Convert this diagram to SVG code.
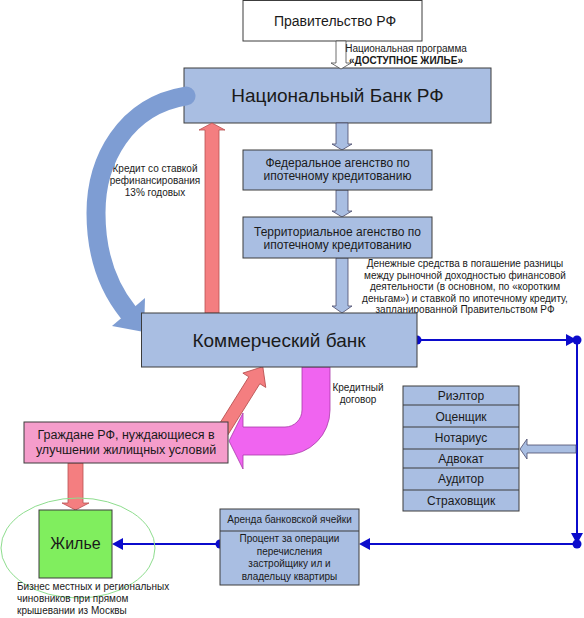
<svg xmlns="http://www.w3.org/2000/svg" width="584" height="618" viewBox="0 0 584 618">
<defs>
<style>
text{font-family:"Liberation Sans",Arial,sans-serif;fill:#1a1a1a}
.c{text-anchor:middle}
.box{fill:#A9BEE2;stroke:#3c3c3c;stroke-width:1}
.sm{font-size:10px}
.ag{font-size:12px}
.li{font-size:12px}
.big{font-size:19px}
.blu{stroke:#0B0BCC;stroke-width:2;fill:none}
.dot{fill:#0B0BCC}
.harr{fill:#0B0BCC}
.barr{fill:#A9BEE2;stroke:#4a4a6a;stroke-width:0.8}
.red{fill:#F47E80;stroke:#B85050;stroke-width:0.8}
</style>
</defs>
<rect width="584" height="618" fill="#ffffff"/>

<g id="gov">
<rect x="243" y="0.5" width="179" height="40.5" fill="#ffffff" stroke="#3c3c3c"/>
<text x="335" y="26" class="c" font-size="14">Правительство РФ</text>
</g>

<g id="natbank">
<rect x="184" y="68" width="307" height="55" class="box"/>
<text x="337.5" y="102" class="c big">Национальный Банк РФ</text>
</g>

<g id="connectors">
<polygon points="336,41 346,41 346,63 351,63 341,69 331,63 336,63" fill="#ffffff" stroke="#4a4a4a" stroke-width="0.8"/>
<text x="406" y="52" class="c sm">Национальная программа</text>
<text x="406" y="64" class="c sm" font-weight="bold">«ДОСТУПНОЕ ЖИЛЬЕ»</text>

<polygon class="barr" points="336,123 348,123 348,144 352,144 342,150 332,144 336,144"/>
<polygon class="barr" points="336,190 348,190 348,211 352,211 342,217 332,211 336,211"/>
<polygon class="barr" points="336,258 348,258 348,306 352,306 342,313 332,306 336,306"/>
<text class="c sm" x="465" y="267">Денежные средства в погашение разницы</text>
<text class="c sm" x="465" y="278.5">между рыночной доходностью финансовой</text>
<text class="c sm" x="465" y="290">деятельности (в основном, по «коротким</text>
<text class="c sm" x="465" y="301.5">деньгам») и ставкой по ипотечному кредиту,</text>
<text class="c sm" x="465" y="313">запланированной Правительством РФ</text>

<polygon class="red" points="205,313 219,313 219,130 225,130 212,123 199,130 205,130"/>
<text class="c sm" x="155" y="172">Кредит со ставкой</text>
<text class="c sm" x="155" y="184">рефинансирования</text>
<text class="c sm" x="155" y="195.5">13% годовых</text>

<path d="M 186 96 C 125 106, 96 160, 96 213 C 96 255, 108 287, 128 312" fill="none" stroke="#7E9DD3" stroke-width="19" stroke-linecap="round"/>
<polygon points="112,326 144,332 145,298" fill="#7E9DD3"/>

<g transform="translate(222,432) rotate(-58)">
<polygon class="red" points="0,-6.5 61,-6.5 61,-13.5 77,0 61,13.5 61,6.5 0,6.5"/>
</g>

<path d="M 302 367 L 330 367 L 330 410 A 45 45 0 0 1 285 455 L 243 455 L 243 469 L 229 441 L 243 413 L 243 427 L 285 427 A 17 17 0 0 0 302 410 Z" fill="#F064F0" stroke="#A838A8" stroke-width="0.8"/>
<text class="c sm" x="358" y="391">Кредитный</text>
<text class="c sm" x="358" y="403">договор</text>

<polygon class="red" points="68,463 83,463 83,503 89,503 75.5,510 62,503 68,503"/>

<line class="blu" x1="417" y1="340" x2="570" y2="340"/>
<circle class="dot" cx="417" cy="340" r="4.5"/>
<polygon class="harr" points="566,334 577,340 566,346"/>
<circle class="dot" cx="577" cy="340" r="4.5"/>

<line class="blu" x1="577" y1="340" x2="577" y2="538"/>
<polygon class="harr" points="571,533 577,544 583,533"/>
<circle class="dot" cx="577" cy="544" r="4.5"/>

<line class="blu" x1="577" y1="544" x2="366" y2="544"/>
<polygon class="harr" points="370,538 359,544 370,550"/>

<line class="blu" x1="220" y1="544" x2="119" y2="544"/>
<circle class="dot" cx="220" cy="544" r="4.5"/>
<polygon class="harr" points="123,538 112,544 123,550"/>

<polygon class="barr" points="576,445 527,445 527,439 520,449 527,459 527,453 576,453"/>
</g>

<g id="fed">
<rect x="243" y="150" width="189" height="40" class="box"/>
<text x="337.5" y="167" class="c ag">Федеральное агенство по</text>
<text x="337.5" y="180" class="c ag">ипотечному кредитованию</text>
</g>

<g id="terr">
<rect x="243" y="217" width="189" height="41" class="box"/>
<text x="337.5" y="236" class="c ag">Территориальное агенство по</text>
<text x="337.5" y="249" class="c ag">ипотечному кредитованию</text>
</g>

<g id="commbank">
<rect x="141.5" y="313" width="275.5" height="54" class="box"/>
<text x="279" y="347" class="c big">Коммерческий банк</text>
</g>

<g id="citizens">
<rect x="24" y="422" width="204" height="41" fill="#F59DCB" stroke="#3c3c3c"/>
<text x="126" y="439" class="c" font-size="12.5">Граждане РФ, нуждающиеся в</text>
<text x="126" y="454" class="c" font-size="12.5">улучшении жилищных условий</text>
</g>

<g id="professions">
<rect x="403" y="386" width="116" height="125" class="box"/>
<line x1="403" y1="405" x2="519" y2="405" stroke="#3c3c3c"/>
<line x1="403" y1="427" x2="519" y2="427" stroke="#3c3c3c"/>
<line x1="403" y1="449" x2="519" y2="449" stroke="#3c3c3c"/>
<line x1="403" y1="468" x2="519" y2="468" stroke="#3c3c3c"/>
<line x1="403" y1="490" x2="519" y2="490" stroke="#3c3c3c"/>
<text x="461" y="400" class="c li">Риэлтор</text>
<text x="461" y="420.5" class="c li">Оценщик</text>
<text x="461" y="442" class="c li">Нотариус</text>
<text x="461" y="463" class="c li">Адвокат</text>
<text x="461" y="483" class="c li">Аудитор</text>
<text x="461" y="504.5" class="c li">Страховщик</text>
</g>

<g id="bankcell">
<rect x="220" y="509" width="139" height="76" class="box"/>
<line x1="220" y1="531" x2="359" y2="531" stroke="#3c3c3c"/>
<text x="289.5" y="523" class="c sm">Аренда банковской ячейки</text>
<text x="289.5" y="542" class="c sm">Процент за операции</text>
<text x="289.5" y="555" class="c sm">перечисления</text>
<text x="289.5" y="567" class="c sm">застройщику ил и</text>
<text x="289.5" y="580" class="c sm">владельцу квартиры</text>
</g>

<g id="housing">
<ellipse cx="78" cy="548" rx="77" ry="50" fill="none" stroke="#8EDD8E" stroke-width="1"/>
<rect x="39" y="510" width="73" height="68" fill="#80EE5E" stroke="#3c3c3c"/>
<text x="75.5" y="549" class="c" font-size="16">Жилье</text>
<text x="17" y="590" class="sm">Бизнес местных и региональных</text>
<text x="17" y="602" class="sm">чиновников при прямом</text>
<text x="17" y="614" class="sm">крышевании из Москвы</text>
</g>
</svg>
